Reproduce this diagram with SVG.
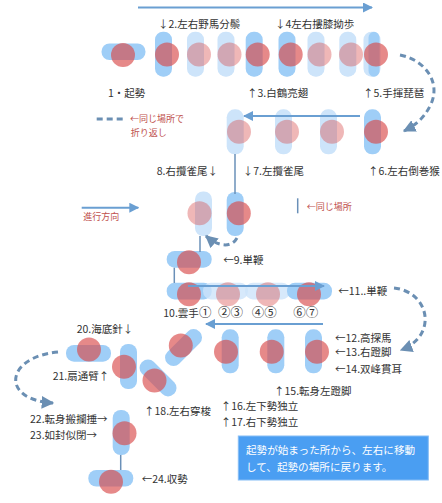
<svg xmlns="http://www.w3.org/2000/svg" width="442" height="503" viewBox="0 0 442 503">
<defs>
<marker id="ah" viewBox="0 0 10 10" refX="9" refY="5" markerWidth="5" markerHeight="5" orient="auto" markerUnits="strokeWidth">
<path d="M0,0 L10,5 L0,10 z" fill="#6a9fd2"/>
</marker>
<marker id="dh" viewBox="0 0 10 10" refX="9" refY="5" markerWidth="4.2" markerHeight="4.2" orient="auto" markerUnits="strokeWidth">
<path d="M0,0 L10,5 L0,10 z" fill="#6b8fb3"/>
</marker>
</defs>
<style>
.pd{fill:#9fcef7}
.pp{fill:#cde4fa}
.cd{fill:#d84a4a;fill-opacity:0.65}
.cp{fill:#d84a4a;fill-opacity:0.4}
.t{font-family:"Noto Sans CJK JP","Noto Sans",sans-serif;font-size:10.5px;fill:#333}
.cn{font-size:12.5px}
.r{font-family:"Noto Sans CJK JP","Noto Sans",sans-serif;font-size:9px;fill:#c0504d}
.w{font-family:"Noto Sans CJK JP","Noto Sans",sans-serif;font-size:10.6px;fill:#fff}
.ar{stroke:#6a9fd2;stroke-width:2;fill:none;marker-end:url(#ah)}
.ln{stroke:#6a90b8;stroke-width:1.5;fill:none}
.ds{stroke:#6b8fb3;stroke-width:3;fill:none;stroke-dasharray:6 4;marker-end:url(#dh)}
</style>
<rect width="442" height="503" fill="#fff"/>

<!-- Row 1 -->
<g id="n1"><rect class="pd" x="101.5" y="43.5" width="44" height="16.5" rx="8"/><circle class="cd" cx="123" cy="55" r="12"/></g>
<g id="n2"><rect class="pd" x="155" y="31.7" width="17" height="45" rx="8"/><circle class="cd" cx="167" cy="54.5" r="12"/></g>
<g id="n2b"><rect class="pp" x="187" y="31.7" width="17" height="45" rx="8"/><circle class="cp" cx="199" cy="54.5" r="12"/></g>
<g id="n2c"><rect class="pp" x="217.5" y="31.7" width="17" height="45" rx="8"/><circle class="cp" cx="229.5" cy="54.5" r="12"/></g>
<g id="n3"><rect class="pd" x="245.7" y="31.7" width="17" height="45" rx="8"/><circle class="cd" cx="257.7" cy="54.5" r="12"/></g>
<g id="n4"><rect class="pd" x="278.5" y="31.7" width="17" height="45" rx="8"/><circle class="cd" cx="290.7" cy="54.5" r="12"/></g>
<g id="n4b"><rect class="pp" x="307.5" y="31.7" width="17" height="45" rx="8"/><circle class="cp" cx="319.5" cy="54.5" r="12"/></g>
<g id="n4c"><rect class="pp" x="339.3" y="31.7" width="17" height="45" rx="8"/><circle class="cp" cx="351" cy="54.5" r="12"/></g>
<g id="n5"><rect class="pp" x="363.5" y="31.7" width="17" height="45" rx="8"/><rect class="pd" x="368.5" y="31.7" width="11" height="45" rx="6"/><circle class="cd" cx="376" cy="54.5" r="12"/></g>

<!-- Row 2 -->
<g id="n8"><rect class="pp" x="226.7" y="109.3" width="17" height="45" rx="8"/><circle class="cp" cx="239" cy="131.7" r="12"/></g>
<g id="n6b"><rect class="pp" x="275" y="109.3" width="17" height="45" rx="8"/><circle class="cp" cx="287" cy="131.7" r="12"/></g>
<g id="n6c"><rect class="pp" x="320" y="109.3" width="17" height="45" rx="8"/><circle class="cp" cx="332" cy="131.7" r="12"/></g>
<g id="n6"><rect class="pd" x="364" y="109.3" width="17" height="45" rx="8"/><circle class="cd" cx="376" cy="131.7" r="12"/></g>

<!-- Row 3 -->
<g id="n8b"><rect class="pp" x="195" y="191.5" width="17" height="44.5" rx="8"/><circle class="cp" cx="199.5" cy="213.3" r="12"/></g>
<g id="n7"><rect class="pd" x="226.7" y="192" width="17" height="44" rx="8"/><circle class="cd" cx="238.8" cy="213.3" r="12"/></g>

<!-- Node 9 -->
<g id="n9"><rect class="pd" x="166.7" y="251" width="45" height="16.7" rx="8"/><circle class="cd" cx="189" cy="262.3" r="12"/></g>

<!-- Row 10 -->
<g id="n10"><rect class="pd" x="166.7" y="282.7" width="45" height="16.7" rx="8"/><rect class="pp" x="203" y="282.7" width="45" height="16.7" rx="8" fill-opacity="0.8"/><rect class="pp" x="245" y="282.7" width="45" height="16.7" rx="8" fill-opacity="0.8"/><rect class="pd" x="287" y="282.7" width="45" height="16.7" rx="8"/>
<circle class="cd" cx="189" cy="294.3" r="12"/><circle class="cp" cx="228" cy="294.3" r="12"/><circle class="cp" cx="268" cy="294.3" r="12"/><circle class="cd" cx="309" cy="294.3" r="12"/></g>

<!-- Row 12-14 -->
<g id="n12"><rect class="pd" x="221.7" y="329.3" width="17" height="44" rx="8"/><circle class="cd" cx="226" cy="351.7" r="12"/></g>
<g id="n13"><rect class="pd" x="267.3" y="329.3" width="17" height="44" rx="8"/><circle class="cd" cx="271.7" cy="351.7" r="12"/></g>
<g id="n14"><rect class="pd" x="305" y="329.3" width="17" height="44" rx="8"/><circle class="cd" cx="317" cy="351.7" r="12"/></g>

<!-- Diagonals -->
<g id="n18a"><rect class="pd" x="161" y="339.2" width="45" height="16.7" rx="8" transform="rotate(-45 183.5 347.5)"/><circle class="cd" cx="180.8" cy="345.5" r="12"/></g>
<g id="n18b"><rect class="pd" x="135.5" y="369.6" width="45" height="16.7" rx="8" transform="rotate(45 158 378)"/><circle class="cd" cx="154.5" cy="380.5" r="12"/></g>

<!-- Node 20, 21 -->
<g id="n20"><rect class="pd" x="66" y="345" width="45" height="16.7" rx="8"/><circle class="cd" cx="89" cy="349.5" r="12"/></g>
<g id="n21"><rect class="pd" x="120" y="344" width="17" height="45" rx="8"/><circle class="cd" cx="124" cy="366.7" r="12"/></g>

<!-- Node 22/23, 24 -->
<g id="n22"><rect class="pd" x="112.7" y="410" width="17" height="45" rx="8"/><circle class="cd" cx="124.5" cy="433.3" r="12"/></g>
<g id="n24"><rect class="pd" x="88.3" y="470" width="45" height="16.5" rx="8"/><circle class="cd" cx="111" cy="481.7" r="12"/></g>

<!-- Connectors -->
<g id="connectors">
<line class="ar" x1="138" y1="7.5" x2="372" y2="7.5"/>
<line class="ar" x1="360" y1="116" x2="244" y2="116"/>
<line class="ln" x1="235" y1="154" x2="235" y2="194"/>
<line class="ln" x1="200" y1="236" x2="200" y2="252"/>
<line class="ln" x1="174.3" y1="267.7" x2="174.3" y2="283"/>
<line class="ar" x1="188" y1="286" x2="324" y2="286"/>
<line class="ar" x1="323" y1="324" x2="206" y2="324"/>
<line class="ln" x1="120.7" y1="455" x2="120.7" y2="470"/>
<path class="ds" d="M400,55 C425,60 441,82 431,104 C424,119 414,126 404,131"/>
<path class="ds" d="M237,238 C232,247 220,248 206,236"/>
<path class="ds" d="M394,288 C430,292 438,336 401,350"/>
<path class="ds" d="M58,352 C5,357 0,400 53,403"/>
</g>

<!-- Legends -->
<g id="legend">
<line x1="96.7" y1="119" x2="123.3" y2="119" stroke="#6b8fb3" stroke-width="3" stroke-dasharray="6 4"/>
<text class="r" x="130" y="122">←同じ場所で</text>
<text class="r" x="130.7" y="135.5">折り返し</text>
<line x1="297.7" y1="198.3" x2="297.7" y2="213.3" stroke="#6a90b8" stroke-width="1.5"/>
<text class="r" x="306.7" y="210">←同じ場所</text>
<line class="ar" x1="81.7" y1="207.7" x2="138.3" y2="207.7"/>
<text class="r" x="83.3" y="220">進行方向</text>
</g>

<!-- Labels -->
<g id="labels">
<text class="t" x="158" y="27.5">↓2.左右野馬分鬃</text>
<text class="t" x="275" y="27.5">↓4左右摟膝拗歩</text>
<text class="t" x="108" y="96.5">1・起勢</text>
<text class="t" x="247" y="96.5">↑3.白鶴亮翅</text>
<text class="t" x="363" y="96.5">↑5.手揮琵琶</text>
<text class="t" x="156.7" y="174.5">8.右攬雀尾↓</text>
<text class="t" x="242.7" y="174.5">↓7.左攬雀尾</text>
<text class="t" x="368" y="174.5">↑6.左右倒巻猴</text>
<text class="t" x="223.3" y="264">←9.単鞭</text>
<text class="t" x="163.3" y="316.5">10.雲手<tspan class="cn">①</tspan></text>
<text class="t cn" x="218" y="317">②③</text>
<text class="t cn" x="251.7" y="317">④⑤</text>
<text class="t cn" x="293.3" y="317">⑥⑦</text>
<text class="t" x="338.3" y="295">←11..単鞭</text>
<text class="t" x="335" y="341.5">←12.高探馬</text>
<text class="t" x="335" y="355.5">←13.右蹬脚</text>
<text class="t" x="335" y="373">←14.双峰貫耳</text>
<text class="t" x="274" y="394.5">↑15.転身左蹬脚</text>
<text class="t" x="220.7" y="409.5">↑16.左下勢独立</text>
<text class="t" x="220.7" y="426">↑17.右下勢独立</text>
<text class="t" x="76.7" y="333">20.海底針↓</text>
<text class="t" x="52.7" y="380">21.扇通臂↑</text>
<text class="t" x="144" y="415">↑18.左右穿梭</text>
<text class="t" x="30" y="423">22.転身搬攔捶→</text>
<text class="t" x="30" y="439">23.如封似閉→</text>
<text class="t" x="141.7" y="483">←24.収勢</text>
</g>

<!-- Note box -->
<g id="note">
<rect x="238.3" y="436" width="190" height="44" fill="#4a9ef2" stroke="#86bdf5" stroke-width="1"/>
<text class="w" x="246" y="454">起勢が始まった所から、左右に移動</text>
<text class="w" x="246" y="470.5">して、起勢の場所に戻ります。</text>
</g>
</svg>
